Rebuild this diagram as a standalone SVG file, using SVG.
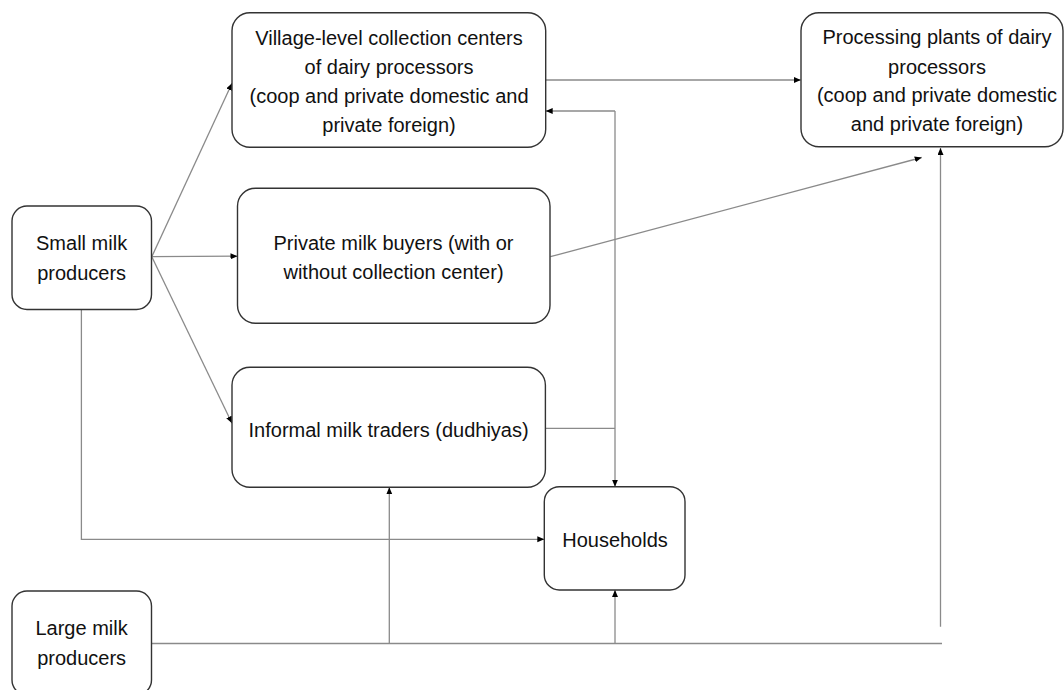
<svg xmlns="http://www.w3.org/2000/svg" width="1064" height="690" viewBox="0 0 1064 690">
<style>
.box{fill:#ffffff;stroke:#333333;stroke-width:1.4}
.lbl{font-family:"Liberation Sans",Arial,sans-serif;font-size:20px;fill:#111111;text-anchor:middle}
.cn{fill:none;stroke:#8a8a8a;stroke-width:1.3}
</style>
<defs>
<marker id="ah" markerUnits="userSpaceOnUse" markerWidth="8" markerHeight="7" refX="7" refY="3" orient="auto">
<path d="M0,0 L7,3 L0,6 z" fill="#000000"/>
</marker>
</defs>
<rect width="1064" height="690" fill="#ffffff"/>
<g id="connectors">
<line class="cn" x1="151.8" y1="256.7" x2="232" y2="83.3" marker-end="url(#ah)"/>
<line class="cn" x1="151.8" y1="256.7" x2="237.5" y2="256.2" marker-end="url(#ah)"/>
<line class="cn" x1="151.8" y1="256.7" x2="232" y2="423.3" marker-end="url(#ah)"/>
<line class="cn" x1="545.7" y1="80" x2="800.8" y2="80" marker-end="url(#ah)"/>
<line class="cn" x1="545.4" y1="428.3" x2="615" y2="428.3"/>
<path class="cn" d="M615,111 L545.7,111" marker-end="url(#ah)"/>
<path class="cn" d="M615,111 L615,486.7" marker-end="url(#ah)"/>
<line class="cn" x1="550.4" y1="256.7" x2="921.7" y2="157.5" marker-end="url(#ah)"/>
<path class="cn" d="M81.4,309.3 L81.4,539.3 L544.3,539.3" marker-end="url(#ah)"/>
<line class="cn" x1="151.7" y1="643.5" x2="942" y2="643.5"/>
<path class="cn" d="M940.5,626.7 L940.5,148" marker-end="url(#ah)"/>
<path class="cn" d="M389.3,643.5 L389.3,487.3" marker-end="url(#ah)"/>
<path class="cn" d="M615,643.5 L615,590" marker-end="url(#ah)"/>
</g>
<g id="small">
<rect class="box" x="12" y="206" width="139.5" height="103.5" rx="15"/>
<text class="lbl" x="81.6" y="250">Small milk</text>
<text class="lbl" x="81.6" y="280">producers</text>
</g>
<g id="large">
<rect class="box" x="12" y="591" width="139.5" height="104" rx="15"/>
<text class="lbl" x="81.6" y="635">Large milk</text>
<text class="lbl" x="81.6" y="665">producers</text>
</g>
<g id="village">
<rect class="box" x="232" y="12.7" width="313.7" height="134.6" rx="18"/>
<text class="lbl" x="389" y="44.5">Village-level collection centers</text>
<text class="lbl" x="389" y="74">of dairy processors</text>
<text class="lbl" x="389" y="103">(coop and private domestic and</text>
<text class="lbl" x="389" y="132">private foreign)</text>
</g>
<g id="private">
<rect class="box" x="237.5" y="188.3" width="312.5" height="135" rx="18"/>
<text class="lbl" x="393.5" y="250">Private milk buyers (with or</text>
<text class="lbl" x="393.5" y="279">without collection center)</text>
</g>
<g id="informal">
<rect class="box" x="232" y="367.3" width="313.4" height="120" rx="18"/>
<text class="lbl" x="388.6" y="436.5">Informal milk traders (dudhiyas)</text>
</g>
<g id="households">
<rect class="box" x="544.3" y="486.7" width="140.7" height="103.3" rx="15"/>
<text class="lbl" x="615" y="546.5">Households</text>
</g>
<g id="processing">
<rect class="box" x="801" y="12.7" width="262" height="134" rx="18"/>
<text class="lbl" x="937" y="44">Processing plants of dairy</text>
<text class="lbl" x="937" y="74">processors</text>
<text class="lbl" x="937" y="102">(coop and private domestic</text>
<text class="lbl" x="937" y="131">and private foreign)</text>
</g>
</svg>
